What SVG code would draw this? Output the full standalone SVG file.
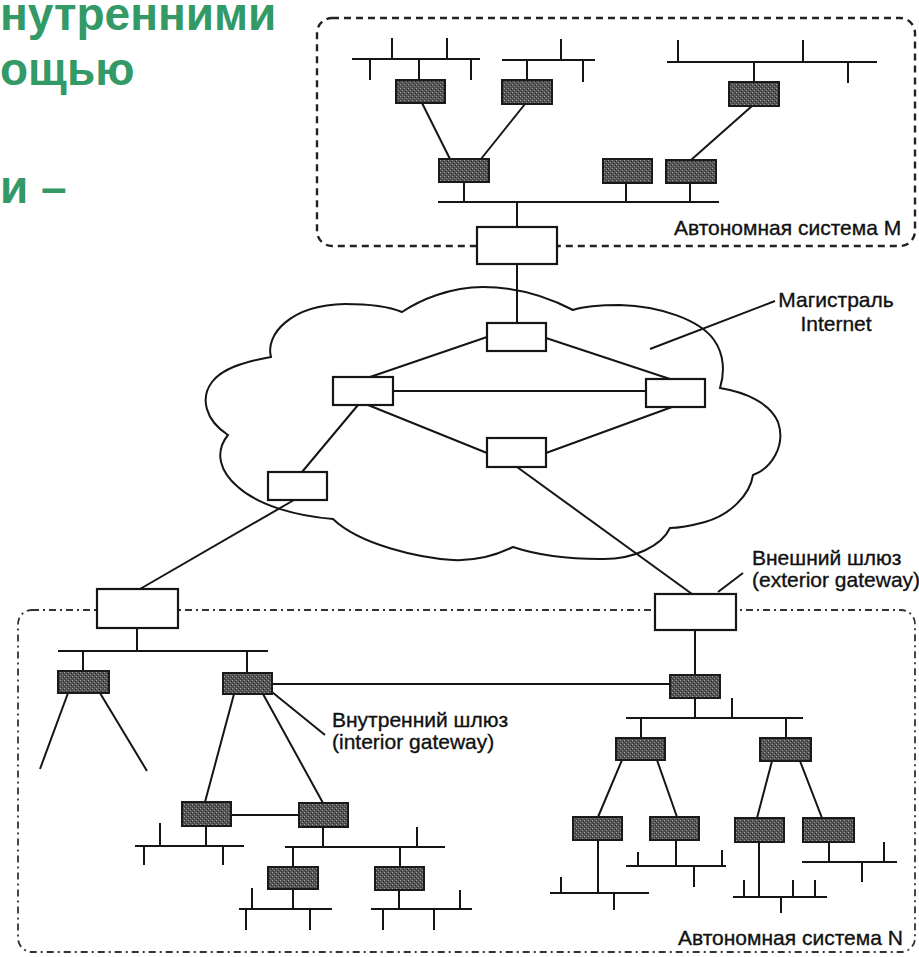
<svg xmlns="http://www.w3.org/2000/svg" width="919" height="957" viewBox="0 0 919 957">
  <style>
    .ln { stroke: #151515; stroke-width: 2; fill: none; }
    .rt { fill: url(#stip); stroke: #1a1a1a; stroke-width: 2; }
    .gw { fill: #fff; stroke: #151515; stroke-width: 2.2; }
    .lbl { font-family: "Liberation Sans", Arial, sans-serif; font-size: 21px; fill: #111; stroke: #111; stroke-width: 0.35; }
    .head { font-family: "Liberation Sans", Arial, sans-serif; font-weight: bold; font-size: 46px; fill: #339966; }
    .asm { fill: none; stroke: #222; stroke-width: 2.4; stroke-dasharray: 7 5; }
    .asn { fill: none; stroke: #333; stroke-width: 1.8; stroke-dasharray: 7 4 2 4; }
    .cloud { fill: #fff; stroke: #151515; stroke-width: 2; }
  </style>
  <defs>
    <!-- stippled fill for internal routers -->
    <pattern id="stip" width="4" height="4" patternUnits="userSpaceOnUse">
      <rect width="4" height="4" fill="#555"/>
      <rect x="0" y="0" width="1" height="1" fill="#a0a0a0"/>
      <rect x="2" y="2" width="1" height="1" fill="#8c8c8c"/>
      <rect x="3" y="1" width="1" height="1" fill="#2a2a2a"/>
      <rect x="1" y="3" width="1" height="1" fill="#333"/>
    </pattern>
  </defs>

  <rect width="919" height="957" fill="#fff"/>

  <!-- slide heading fragments -->
  <g id="heading">
    <text class="head" x="0" y="30">нутренними</text>
    <text class="head" x="0" y="85">ощью</text>
    <text class="head" x="0" y="203">и –</text>
  </g>

  <!-- autonomous system borders -->
  <g id="as-borders">
    <rect class="asm" x="317" y="18" width="598" height="228" rx="15"/>
    <rect class="asn" x="18" y="610" width="897" height="342" rx="14"/>
  </g>

  <!-- Internet backbone cloud -->
  <g id="backbone-cloud">
    <path class="cloud" d="M402,312 C420,300 450,287 483,287 C520,287 550,298 573,310 C585,306 600,305 620,305 C660,306 700,320 714,340 C724,354 725,372 720,388 C745,392 770,403 778,422 C786,445 772,468 753,475 C750,495 730,515 705,522 C690,526 680,528 670,528 C662,545 635,560 600,559 C570,559 540,556 513,547 C495,556 475,561 453,560 C420,558 360,545 333,519 C295,516 258,505 238,487 C220,472 214,452 228,435 C205,420 200,398 212,382 C222,369 242,362 271,357 C265,335 290,305 345,304 C370,304 390,307 402,312 Z"/>
  </g>

  <!-- connectors -->
  <g id="connectors" class="ln">
    <!-- AS M networks -->
    <path d="M352,59 H480 M392,38 V59 M447,38 V59 M370,59 V80 M471,59 V80 M419,59 V80"/>
    <path d="M502,60 H595 M561,39 V60 M583,60 V82 M527,60 V80"/>
    <path d="M667,62 H877 M678,40 V62 M803,40 V62 M848,62 V83 M754,62 V82"/>
    <path d="M422,103 L450,159 M525,104 L481,159 M752,106 L691,160"/>
    <path d="M438,202 H719 M464,182 V202 M626,183 V202 M690,183 V202 M517,202 V227"/>
    <!-- backbone links -->
    <path d="M517,264 V323"/>
    <path d="M370,377 L487,337 M546,338 L670,379 M393,391 H646"/>
    <path d="M368,405 L487,453 M546,453 L672,407"/>
    <path d="M358,405 L302,472"/>
    <path d="M294,500 L140,589"/>
    <path d="M517,467 L692,594"/>
    <!-- label leaders -->
    <path d="M650,349 L775,301 M718,592 L743,573 M272,692 L325,735"/>
    <!-- AS N, left part -->
    <path d="M137,628 V651 M58,651 H268 M83,651 V671 M247,651 V673"/>
    <path d="M68,693 L40,769 M100,693 L147,771"/>
    <path d="M272,684 H670"/>
    <path d="M234,694 L205,802 M263,694 L323,803"/>
    <path d="M231,815 H299"/>
    <path d="M206,826 V846 M135,846 H244 M160,823 V846 M144,846 V865 M223,846 V865"/>
    <path d="M323,827 V847 M285,847 H445 M417,827 V847 M293,847 V867 M400,847 V867"/>
    <path d="M293,889 V909 M239,909 H332 M252,888 V909 M246,909 V930 M310,909 V930"/>
    <path d="M399,890 V909 M371,909 H472 M383,909 V930 M434,909 V930 M460,890 V909"/>
    <!-- AS N, right part -->
    <path d="M695,630 V675 M695,698 V718 M626,718 H803 M732,698 V718 M641,718 V738 M786,718 V738"/>
    <path d="M622,760 L598,817 M657,760 L677,817 M772,761 L757,818 M800,761 L822,818"/>
    <path d="M598,840 V893 M550,893 H649 M561,877 V893 M614,893 V910"/>
    <path d="M676,840 V866 M626,866 H726 M638,852 V866 M722,850 V866 M694,866 V887"/>
    <path d="M759,842 V897 M733,897 H827 M744,880 V897 M793,880 V897 M815,880 V897 M781,897 V913"/>
    <path d="M829,842 V862 M802,862 H897 M884,842 V862 M862,862 V882"/>
  </g>

  <!-- AS M routers -->
  <g id="m-r1"><rect class="rt" x="396" y="80" width="49" height="23"/></g>
  <g id="m-r2"><rect class="rt" x="502" y="80" width="50" height="24"/></g>
  <g id="m-r3"><rect class="rt" x="729" y="82" width="50" height="24"/></g>
  <g id="m-r4"><rect class="rt" x="439" y="159" width="50" height="23"/></g>
  <g id="m-r5"><rect class="rt" x="603" y="159" width="49" height="24"/></g>
  <g id="m-r6"><rect class="rt" x="666" y="160" width="50" height="23"/></g>
  <g id="gw-m"><rect class="gw" x="477" y="227" width="80" height="37"/></g>

  <!-- backbone routers -->
  <g id="c-top"><rect class="gw" x="487" y="323" width="59" height="28"/></g>
  <g id="c-left"><rect class="gw" x="333" y="377" width="60" height="28"/></g>
  <g id="c-right"><rect class="gw" x="646" y="379" width="59" height="28"/></g>
  <g id="c-bottom"><rect class="gw" x="487" y="438" width="59" height="29"/></g>
  <g id="c-lowleft"><rect class="gw" x="268" y="472" width="59" height="28"/></g>

  <!-- AS N exterior gateways -->
  <g id="gw-n-left"><rect class="gw" x="97" y="589" width="81" height="39"/></g>
  <g id="gw-n-right"><rect class="gw" x="655" y="594" width="81" height="36"/></g>

  <!-- AS N routers -->
  <g id="n-l1"><rect class="rt" x="58" y="671" width="51" height="22"/></g>
  <g id="n-l2"><rect class="rt" x="223" y="673" width="49" height="21"/></g>
  <g id="n-l3"><rect class="rt" x="182" y="802" width="49" height="24"/></g>
  <g id="n-l4"><rect class="rt" x="299" y="803" width="49" height="24"/></g>
  <g id="n-l5"><rect class="rt" x="268" y="867" width="50" height="22"/></g>
  <g id="n-l6"><rect class="rt" x="375" y="867" width="49" height="23"/></g>
  <g id="n-r0"><rect class="rt" x="670" y="675" width="50" height="23"/></g>
  <g id="n-r1"><rect class="rt" x="616" y="738" width="49" height="22"/></g>
  <g id="n-r2"><rect class="rt" x="760" y="738" width="51" height="23"/></g>
  <g id="n-r3"><rect class="rt" x="573" y="817" width="49" height="23"/></g>
  <g id="n-r4"><rect class="rt" x="650" y="817" width="49" height="23"/></g>
  <g id="n-r5"><rect class="rt" x="735" y="818" width="49" height="24"/></g>
  <g id="n-r6"><rect class="rt" x="803" y="818" width="51" height="24"/></g>

  <!-- labels -->
  <g id="labels">
    <text class="lbl" x="674" y="235">Автономная система M</text>
    <text class="lbl" x="836" y="307" text-anchor="middle">Магистраль</text>
    <text class="lbl" x="836" y="331" text-anchor="middle">Internet</text>
    <text class="lbl" x="752" y="565">Внешний шлюз</text>
    <text class="lbl" x="752" y="587">(exterior gateway)</text>
    <text class="lbl" x="332" y="727">Внутренний шлюз</text>
    <text class="lbl" x="332" y="749">(interior gateway)</text>
    <text class="lbl" x="678" y="945">Автономная система N</text>
  </g>
</svg>
